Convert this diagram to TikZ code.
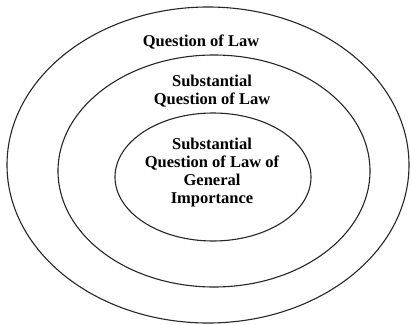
\documentclass[tikz,border=0pt]{standalone}
\usepackage{fontspec}
\setmainfont{Liberation Serif}
\begin{document}
\begin{tikzpicture}[x=1pt,y=-1pt,
  ring/.style={draw=black!85,line width=1.1pt},
  lbl/.style={font=\bfseries\fontsize{16.5}{18}\selectfont,align=center,inner sep=0pt}]
\useasboundingbox (0,0) rectangle (412,324);
\fill[white] (0,0) rectangle (412,324);
\draw[ring] (208,165) ellipse [x radius=201,y radius=158];
\draw[ring] (214,171) ellipse [x radius=156,y radius=116];
\draw[ring] (213,177) ellipse [x radius=98,y radius=64];
\node[lbl] (t1) at (201,42) {Question of Law};
\node[lbl] (t2) at (212,91) {Substantial\\Question of Law};
\node[lbl] (t3) at (212,173) {Substantial\\Question of Law of\\General\\Importance};
\end{tikzpicture}
\end{document}
